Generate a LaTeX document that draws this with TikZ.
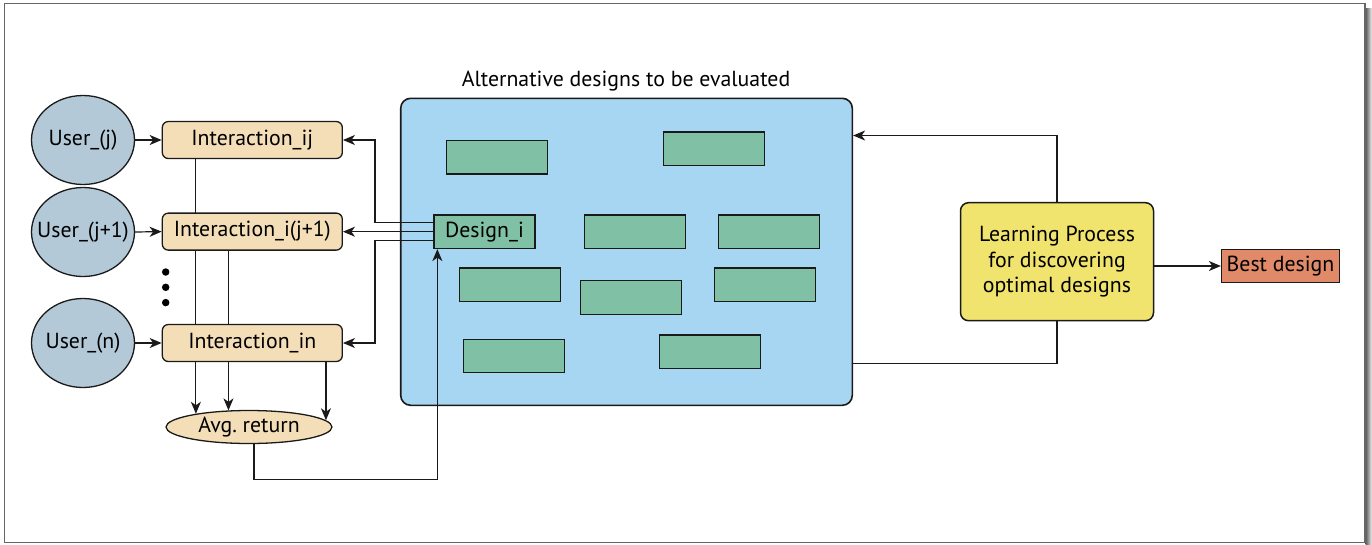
\documentclass[tikz,border=0pt]{standalone}
\usepackage{fontspec}
\setmainfont{PT Sans}
\usetikzlibrary{shapes.geometric,arrows.meta,calc}
\pgfdeclarelayer{background}
\pgfsetlayers{background,main}
\definecolor{userc}{HTML}{B4C9D7}
\definecolor{wheatc}{HTML}{F4DEB8}
\definecolor{bluec}{HTML}{A6D6F2}
\definecolor{greenc}{HTML}{80C1A5}
\definecolor{yellowc}{HTML}{F0E46E}
\definecolor{salmonc}{HTML}{E08A69}
\definecolor{linec}{HTML}{1A1A1A}
\tikzset{
  txt/.style={font=\fontsize{21.8}{25.5}\selectfont},
  user/.style={ellipse, draw=linec, line width=1.3pt, fill=userc, minimum width=103, minimum height=89, inner xsep=-16pt, inner ysep=0pt, txt},
  inter/.style={rectangle, rounded corners=6pt, draw=linec, line width=1.3pt, fill=wheatc, minimum width=180, minimum height=37, inner sep=0pt, txt},
  avgst/.style={ellipse, draw=linec, line width=1.3pt, fill=wheatc, minimum width=166, minimum height=33, inner sep=0pt, txt},
  bigbox/.style={rectangle, rounded corners=10pt, draw=linec, line width=1.6pt, fill=bluec, minimum width=451.6, minimum height=307, inner sep=0pt},
  gr/.style={rectangle, draw=linec, line width=1.3pt, fill=greenc, minimum width=101, minimum height=33.5, inner sep=0pt, txt},
  lpst/.style={rectangle, rounded corners=8pt, draw=linec, line width=1.5pt, fill=yellowc, minimum width=193, minimum height=118, inner sep=0pt, align=center, txt},
  bestst/.style={rectangle, draw=linec, line width=1.3pt, fill=salmonc, minimum width=118, minimum height=33.5, inner sep=0pt, txt},
  arr/.style={-{Stealth[length=12pt,width=10pt,inset=3.5pt]}, line width=1.2pt, draw=linec},
  ln/.style={line width=1.2pt, draw=linec},
  dotst/.style={circle, fill=black, minimum size=7.5pt, inner sep=0pt},
}
\begin{document}
\begin{tikzpicture}[x=1pt,y=-1pt]
\useasboundingbox (0,0) rectangle (1372,544);
% frame
\shade[left color=black!65, right color=black!5] (1365.5,8) rectangle (1372,544);
\draw[black!60, line width=1.6pt] (4.5,3.5) rectangle (1365,542.5);

% users
\node[user] (uj)  at (83,140) {User\_(j)};
\node[user] (uj1) at (83,232) {User\_(j+1)};
\node[user] (un)  at (83,343) {User\_(n)};
% interactions
\node[inter] (ij)  at (252.3,140) {Interaction\_ij};
\node[inter] (ij1) at (252.3,231.6) {Interaction\_i(j+1)};
\node[inter] (in)  at (252.3,343) {Interaction\_in};
% dots
\node[dotst] (d1) at (165.7,272) {};
\node[dotst] (d2) at (165.7,287.3) {};
\node[dotst] (d3) at (165.7,302.6) {};
% avg
\node[avgst] (avg) at (249,427) {Avg.\ return};

% big box
\node[bigbox] (big) at (626.5,251.8) {};
\node[txt, anchor=base] (title) at (626,86) {Alternative designs to be evaluated};
\node[gr] (g1) at (497,157.2) {};
\node[gr] (g2) at (714.3,148.8) {};
\node[gr] (design) at (484.5,231.7) {Design\_i};
\node[gr] (g4) at (634.8,231.7) {};
\node[gr] (g5) at (768.8,231.7) {};
\node[gr] (g6) at (509.7,284.8) {};
\node[gr] (g7) at (630.8,297.5) {};
\node[gr] (g8) at (764.7,284.8) {};
\node[gr] (g9) at (513.8,356) {};
\node[gr] (g10) at (710.2,351.8) {};

% learning process
\node[lpst] (lp) at (1057,261.7) {Learning Process\\for discovering\\optimal designs};
\node[bestst] (best) at (1280.5,266) {Best design};

% vertical lines to avg (behind interaction boxes)
\begin{pgfonlayer}{background}
\draw[ln] (ij.south -| avg.166.5) -- (in.south -| avg.166.5);
\draw[ln] (ij1.south -| avg.141.3) -- (in.south -| avg.141.3);
\end{pgfonlayer}
\draw[arr] (in.south -| avg.166.5) -- (avg.166.5);
\draw[arr] (in.south -| avg.141.3) -- (avg.141.3);
\draw[arr] (in.south -| avg.5) -- (avg.5);

% user -> interaction
\draw[arr] (uj.east) -- (ij.west);
\draw[arr] (uj1.east) -- (ij1.west);
\draw[arr] (un.east) -- (in.west);

% design -> interactions
\draw[arr] ([yshift=9.4pt]design.west) -| ($(ij.east)+(32,0)$) -- (ij.east);
\draw[arr] (design.west) -- (design.west -| ij1.east);
\draw[arr] ([yshift=-9pt]design.west) -| ($(in.east)+(32,0)$) -- (in.east);

% avg -> design
\draw[arr] ([xshift=5pt]avg.south) -- ++(0,35.5) -| ([xshift=4pt]design.south west);

% learning loop
\draw[arr] (lp.north) |- ($(big.north east)+(0,38)$);
\draw[ln] (lp.south) |- ($(big.south east)+(0,-43)$);
\draw[arr] (lp.east |- best.west) -- (best.west);
\end{tikzpicture}
\end{document}
